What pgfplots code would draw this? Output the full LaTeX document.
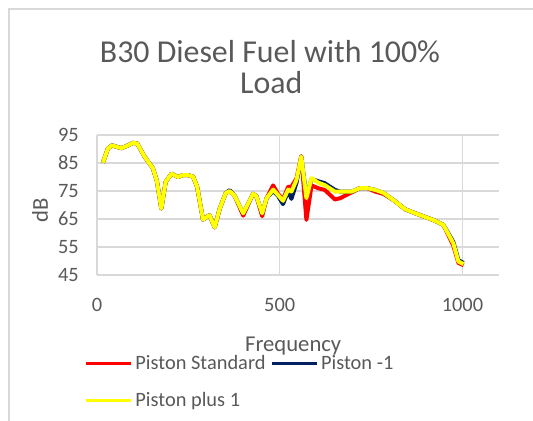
\documentclass[border=0pt]{standalone}
\usepackage{pgfplots}
\pgfplotsset{compat=1.18}
\usepackage{fontspec}
\setmainfont{Carlito}
\definecolor{txt}{HTML}{595959}
\definecolor{gridc}{HTML}{D9D9D9}
\definecolor{navy}{HTML}{002060}
\definecolor{red1}{HTML}{FF0000}
\definecolor{yel}{HTML}{FFFF00}
\begin{document}
\begin{tikzpicture}
\useasboundingbox (0pt,0pt) rectangle (399.75pt,315.75pt);
\draw[gridc, line width=0.9pt] (6.75pt,0pt) -- (6.75pt,309pt) -- (399.75pt,309pt);
\node[txt, anchor=base, inner sep=0pt, font=\fontsize{23.9}{28}\selectfont] at (202.5pt,268.5pt) {B30 Diesel Fuel with 100\%};
\node[txt, anchor=base, inner sep=0pt, font=\fontsize{23.9}{28}\selectfont] at (203.5pt,245.25pt) {Load};
\begin{axis}[
  at={(72.75pt,109.5pt)}, anchor=south west,
  scale only axis, width=301.5pt, height=105pt,
  xmin=0, xmax=1100, ymin=45, ymax=95,
  xtick={0,500,1000}, ytick={45,55,65,75,85,95},
  axis line style={draw=none},
  major tick length=0pt,
  grid=major,
  major grid style={gridc, line width=0.9pt},
  ticklabel style={txt, font=\fontsize{15.3}{18}\selectfont},
  yticklabel style={inner sep=0pt, anchor=east, xshift=-13.5pt},
  xticklabel style={inner sep=0pt, anchor=north, yshift=-17.25pt},
  /pgf/number format/assume math mode=true,
  /pgf/number format/1000 sep={},
  xlabel={Frequency}, ylabel={dB},
  label style={txt, font=\fontsize{17}{20}\selectfont},
  xlabel style={at={(axis description cs:0.488,-0.55)}, anchor=base, inner sep=0pt},
  ylabel style={at={(axis description cs:-0.1418,0.464)}, anchor=center, inner sep=0pt, rotate=0},
  legend columns=2,
  legend cell align=left,
  legend style={at={(axis description cs:-0.0316,-0.555)}, anchor=north west,
    draw=none, fill=none, inner sep=0pt,
    font=\fontsize{15.3}{18}\selectfont, text=txt,
    row sep=11.3pt,
    /tikz/every even column/.append style={column sep=1.5pt}},
  legend image code/.code={\draw[#1, line width=2.4pt] (0pt,0pt) -- (33.75pt,0pt);},
  clip=false,
]
\addplot[red1, line width=3pt, line join=round] coordinates {
(16,85.1)(30,90.2)(41,91.3)(53,90.8)(67,90.3)(85,91.3)(99,92.2)(110,92.0)
(130,87.3)(153,83.1)(164,78.5)(176,68.7)(188,78.3)(204,81.2)(222,80.0)(235,80.7)
(249,80.7)(263,80.1)(274,76.5)(290,64.8)(308,66.4)(322,62.0)(336,68.8)(352,74.2)
(363,75.0)(377,73.2)(400,66.2)(427,74.0)(436,73.2)(452,66.0)(464,72.4)(482,77.0)
(495,74.0)(509,72.0)(523,76.5)(532,76.5)(546,79.5)(559,87.5)(573,64.7)(587,77.0)
(605,76.0)(623,75.4)(651,72.0)(665,72.4)(683,73.6)(697,74.5)(719,76.0)(740,76.0)
(761,74.8)(783,74.0)(811,71.8)(843,68.5)(866,67.3)(884,66.4)(921,64.6)(948,62.9)
(975,55.5)(989,49.3)(1003,48.5)
};
\addlegendentry{Piston Standard}
\addplot[navy, line width=3pt, line join=round] coordinates {
(16,85.1)(30,90.2)(41,91.3)(53,90.8)(67,90.3)(85,91.3)(99,92.2)(110,92.0)
(130,87.3)(153,83.1)(164,78.5)(176,68.7)(188,78.3)(204,81.2)(222,80.0)(235,80.7)
(249,80.7)(263,80.1)(274,76.5)(290,64.8)(308,66.4)(322,62.0)(336,68.8)(352,74.2)
(363,75.3)(377,73.2)(400,67.0)(427,74.0)(436,73.2)(452,67.0)(464,72.4)(482,75.0)
(495,73.3)(509,70.3)(523,75.0)(532,72.2)(546,78.0)(559,87.3)(573,73.0)(587,79.3)
(605,78.5)(623,77.8)(651,75.4)(665,74.8)(683,74.8)(697,74.8)(719,76.0)(740,76.0)
(761,75.4)(783,74.4)(811,71.8)(843,68.5)(866,67.3)(884,66.4)(921,64.6)(948,62.9)
(975,56.8)(989,50.3)(1003,49.3)
};
\addlegendentry{Piston -1}
\addplot[yel, line width=3pt, line join=round] coordinates {
(16,85.1)(30,90.2)(41,91.3)(53,90.8)(67,90.3)(85,91.3)(99,92.2)(110,92.0)
(130,87.3)(153,83.1)(164,78.5)(176,68.7)(188,78.3)(204,81.2)(222,80.0)(235,80.7)
(249,80.7)(263,80.1)(274,76.5)(290,64.8)(308,66.4)(322,62.0)(336,68.8)(352,74.2)
(363,75.0)(377,73.2)(400,67.0)(427,74.0)(436,73.2)(452,67.0)(464,72.4)(482,75.5)
(495,73.6)(509,71.5)(523,75.5)(532,74.8)(546,79.0)(559,87.3)(573,72.5)(587,79.6)
(605,78.0)(623,77.1)(651,74.8)(665,74.8)(683,74.8)(697,74.8)(719,76.0)(740,76.0)
(761,75.4)(783,74.4)(811,71.8)(843,68.5)(866,67.3)(884,66.4)(921,64.6)(948,62.9)
(975,56.3)(989,49.8)(1003,48.9)
};
\addlegendentry{Piston plus 1}
\end{axis}
\end{tikzpicture}
\end{document}
